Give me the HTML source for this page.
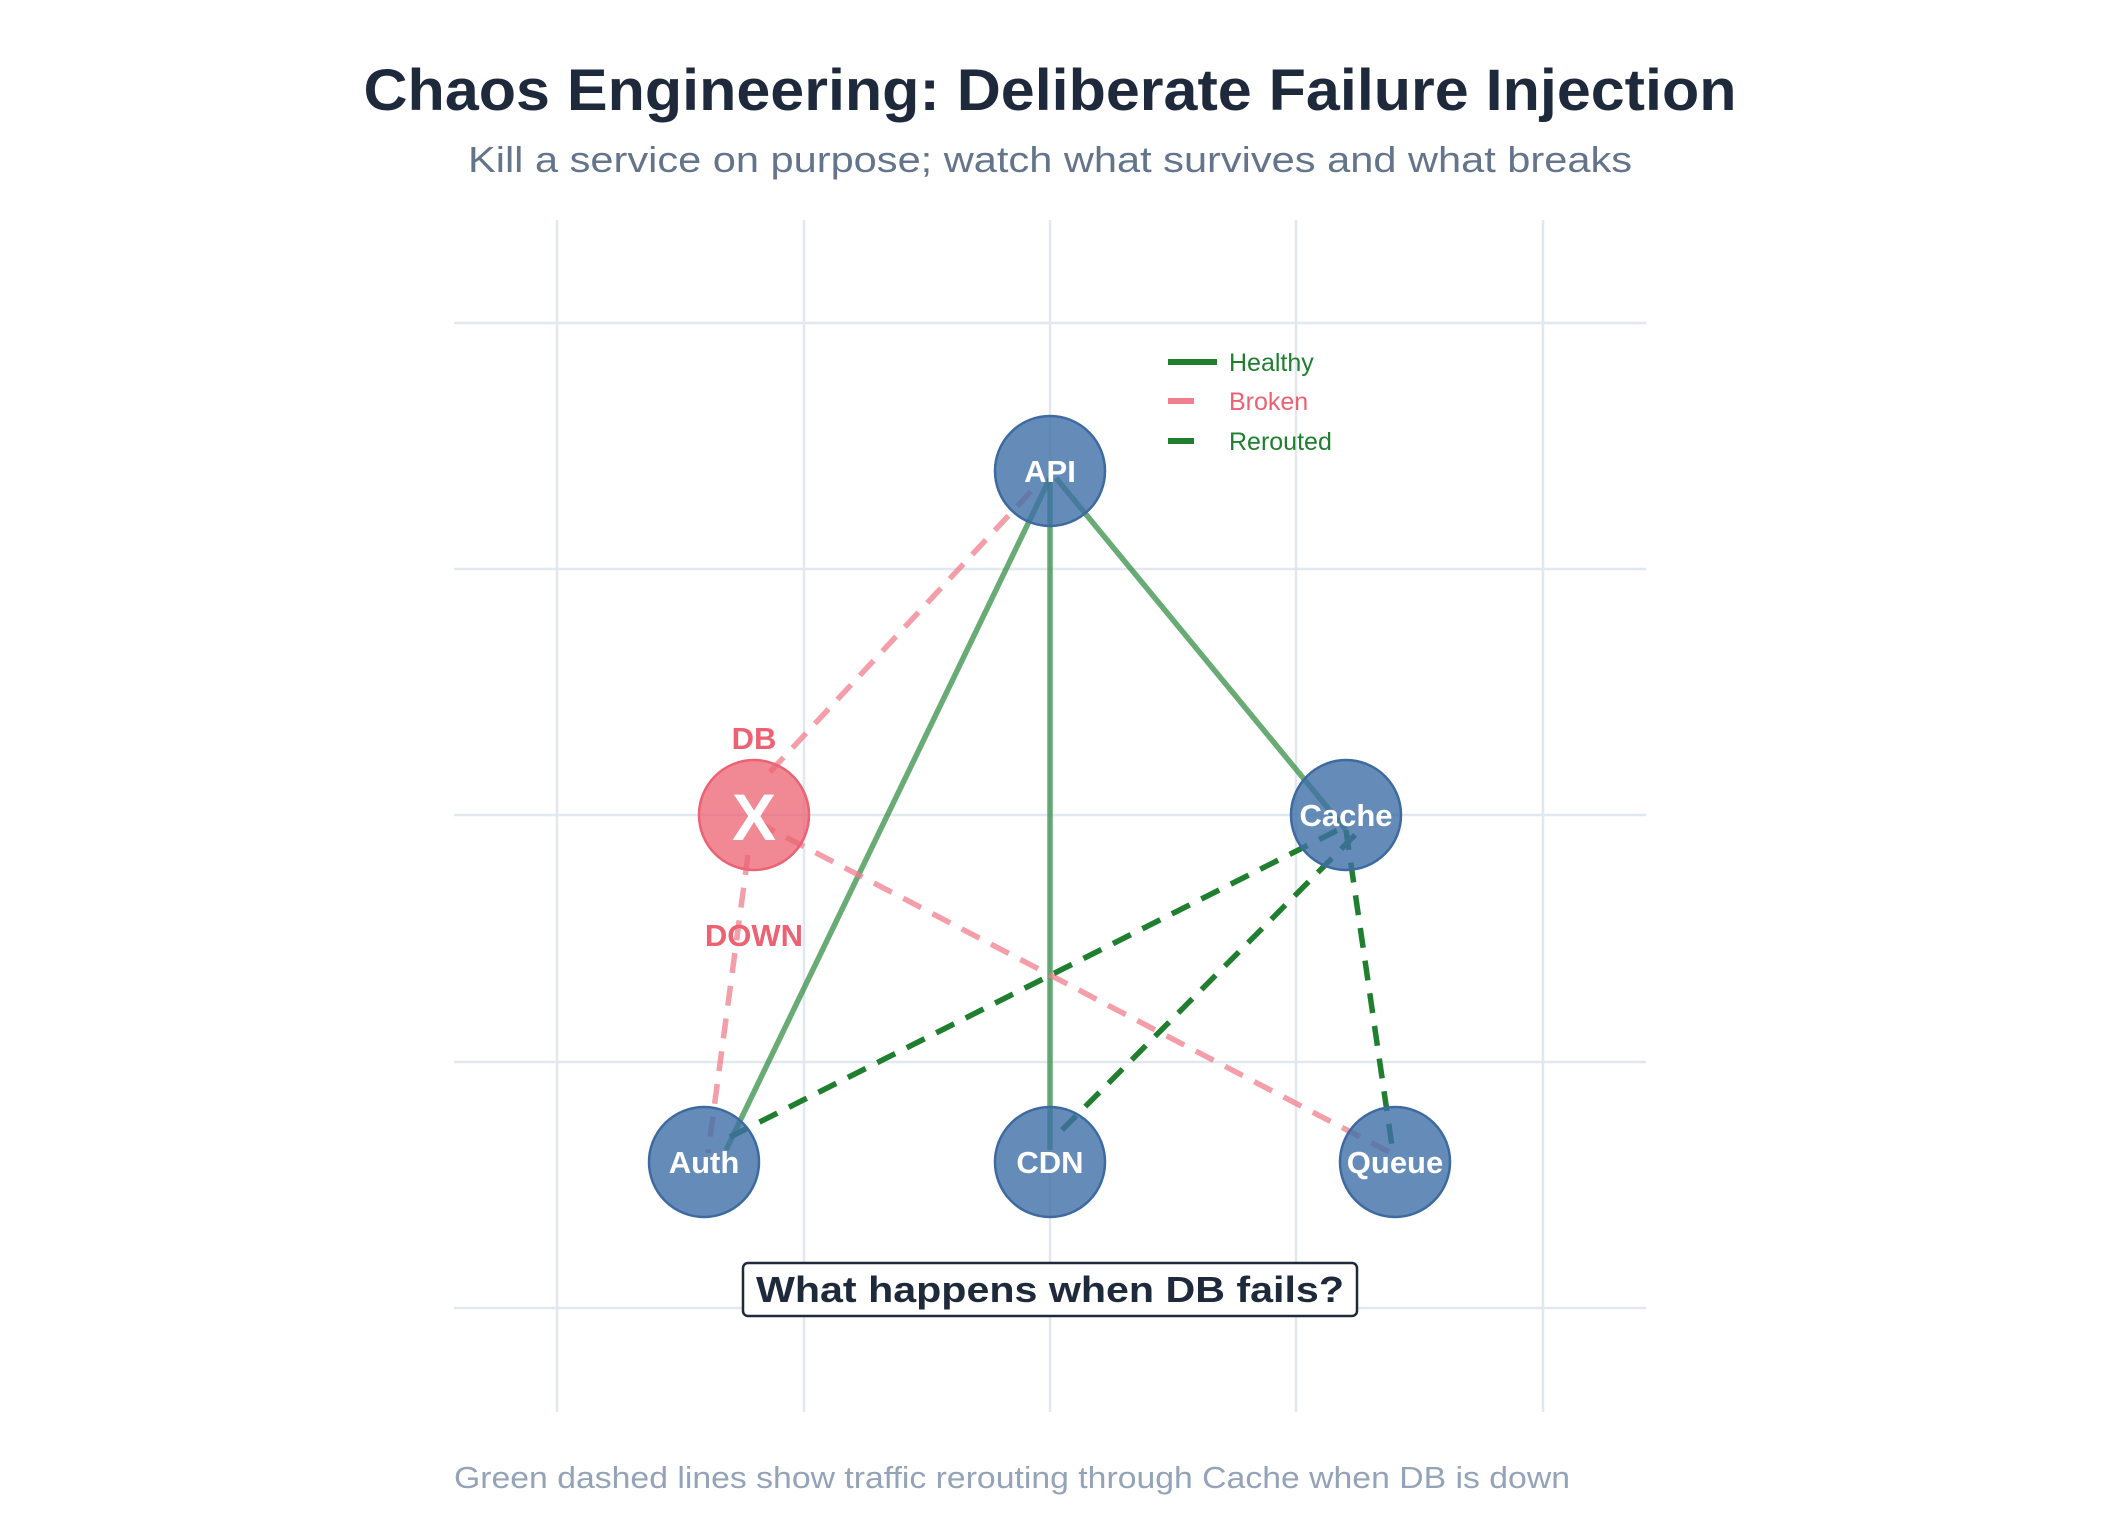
<!DOCTYPE html>
<html><head><meta charset="utf-8"><style>
html,body{margin:0;padding:0;background:#fff;}
svg{display:block;}
text{font-family:"Liberation Sans",sans-serif;}
</style></head><body>
<svg width="2125" height="1535" viewBox="0 0 2125 1535" xmlns="http://www.w3.org/2000/svg">
<rect width="2125" height="1535" fill="#fff"/>
<g stroke="#e2e8f0" stroke-width="2.5">
<line x1="557" y1="220" x2="557" y2="1412"/>
<line x1="804" y1="220" x2="804" y2="1412"/>
<line x1="1050" y1="220" x2="1050" y2="1412"/>
<line x1="1296" y1="220" x2="1296" y2="1412"/>
<line x1="1543" y1="220" x2="1543" y2="1412"/>
<line x1="454" y1="323" x2="1646" y2="323"/>
<line x1="454" y1="569" x2="1646" y2="569"/>
<line x1="454" y1="815" x2="1646" y2="815"/>
<line x1="454" y1="1062" x2="1646" y2="1062"/>
<line x1="454" y1="1308" x2="1646" y2="1308"/>
</g>
<text x="1050" y="110" text-anchor="middle" font-size="58" font-weight="bold" fill="#1e293b" textLength="1373" lengthAdjust="spacingAndGlyphs">Chaos Engineering: Deliberate Failure Injection</text>
<text x="1050" y="172" text-anchor="middle" font-size="36" fill="#64748b" textLength="1164" lengthAdjust="spacingAndGlyphs">Kill a service on purpose; watch what survives and what breaks</text>
<g stroke="#2e8b3e" stroke-opacity="0.72" stroke-width="5.5" fill="none">
<line x1="1050" y1="478" x2="726" y2="1150"/>
<line x1="1050" y1="478" x2="1050" y2="1150"/>
<line x1="1056" y1="478" x2="1346" y2="830"/>
</g>
<g stroke="#f07e8c" stroke-opacity="0.75" stroke-width="5.5" fill="none" stroke-dasharray="20 13">
<line x1="770" y1="772" x2="1036" y2="486"/>
<line x1="757" y1="822" x2="1391" y2="1153"/>
<line x1="748" y1="855" x2="708" y2="1153"/>
</g>
<g stroke="#1f7f2f" stroke-width="5.5" fill="none" stroke-dasharray="20 13">
<line x1="730" y1="1137" x2="1338" y2="830"/>
<line x1="1062" y1="1130" x2="1360" y2="830"/>
<line x1="1346" y1="830" x2="1393" y2="1153"/>
</g>
<g fill="#3f6fa6" fill-opacity="0.8" stroke="#3d6aa0" stroke-width="2.5">
<circle cx="1050" cy="471" r="55"/>
<circle cx="1346" cy="815" r="55"/>
<circle cx="704" cy="1162" r="55"/>
<circle cx="1050" cy="1162" r="55"/>
<circle cx="1395" cy="1162" r="55"/>
</g>
<circle cx="754" cy="815" r="55" fill="#ec6272" fill-opacity="0.75" stroke="#ec6272" stroke-width="2.5"/>
<g fill="#fff" font-weight="bold" font-size="31" text-anchor="middle">
<text x="1050" y="482">API</text>
<text x="1346" y="826">Cache</text>
<text x="704" y="1173">Auth</text>
<text x="1050" y="1173">CDN</text>
<text x="1395" y="1173">Queue</text>
<text x="754" y="840" font-size="66">X</text>
</g>
<text x="754" y="749" text-anchor="middle" font-size="31" font-weight="bold" fill="#ec6272">DB</text>
<text x="754" y="946" text-anchor="middle" font-size="31" font-weight="bold" fill="#ec6272">DOWN</text>
<line x1="1168" y1="362" x2="1217" y2="362" stroke="#1f7f2f" stroke-width="6"/>
<line x1="1168" y1="401" x2="1194" y2="401" stroke="#f07e8c" stroke-width="6"/>
<line x1="1168" y1="441" x2="1194" y2="441" stroke="#1f7f2f" stroke-width="6"/>
<g font-size="25">
<text x="1229" y="371" fill="#1f7f2f">Healthy</text>
<text x="1229" y="410" fill="#ec6272">Broken</text>
<text x="1229" y="450" fill="#1f7f2f">Rerouted</text>
</g>
<rect x="743" y="1263" width="614" height="53" rx="5" fill="#fff" stroke="#1e293b" stroke-width="2.5"/>
<text x="1050" y="1302" text-anchor="middle" font-size="36" font-weight="bold" fill="#1e293b" textLength="588" lengthAdjust="spacingAndGlyphs">What happens when DB fails?</text>
<text x="454" y="1488" font-size="31" fill="#94a3b8" textLength="1116" lengthAdjust="spacingAndGlyphs">Green dashed lines show traffic rerouting through Cache when DB is down</text>
</svg>
</body></html>
